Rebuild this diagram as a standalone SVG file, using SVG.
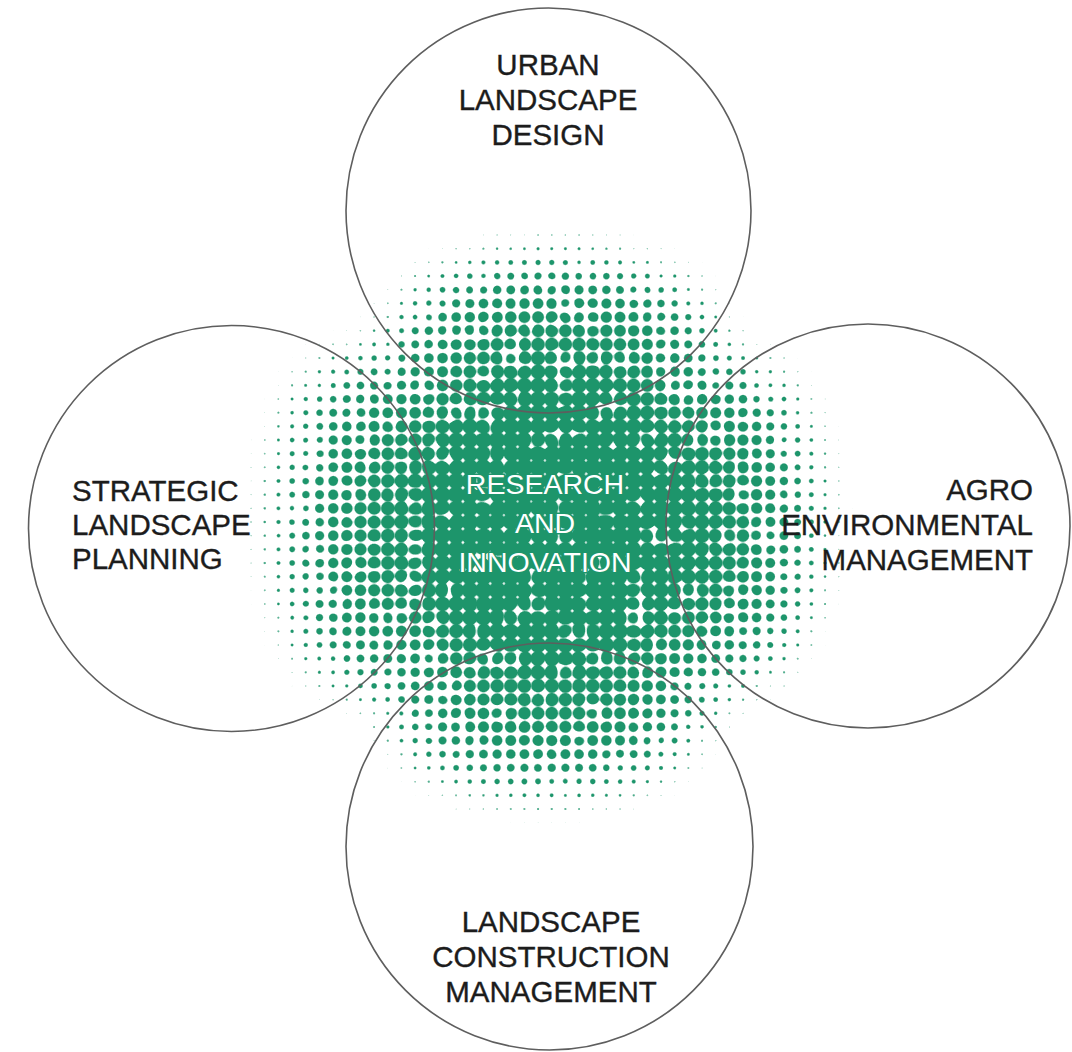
<svg xmlns="http://www.w3.org/2000/svg" width="1072" height="1052" viewBox="0 0 1072 1052">
<style>
.ring{fill:none;stroke:#5e5e5e;stroke-width:1.6}
.lbl{font-family:"Liberation Sans",Arial,sans-serif;font-size:29.5px;fill:#1c1c1c;stroke:#1c1c1c;stroke-width:0.35}
.core{font-family:"Liberation Sans",Arial,sans-serif;font-size:28.5px;fill:#ffffff;stroke:#1d956b;stroke-width:3;paint-order:stroke;text-anchor:middle}
</style>
<defs>
<radialGradient id="dotg" cx="0.5" cy="0.5" r="0.7071">
<stop offset="0" stop-color="#00ff00"/>
<stop offset="1" stop-color="#000000"/>
</radialGradient>
<pattern id="dots" patternUnits="userSpaceOnUse" x="-1.9" y="-4.3" width="13.67" height="13.67">
<rect width="13.67" height="13.67" fill="url(#dotg)"/>
</pattern>
<filter id="soft" filterUnits="userSpaceOnUse" x="0" y="0" width="1072" height="1052">
<feGaussianBlur stdDeviation="30"/>
</filter>
<filter id="halftone" filterUnits="userSpaceOnUse" x="0" y="0" width="1072" height="1052" color-interpolation-filters="sRGB">
<feTurbulence type="fractalNoise" baseFrequency="0.04" numOctaves="2" seed="11" result="n"/>
<feColorMatrix in="n" type="matrix" values="1.1 0 0 0 0.48  0 0 0 0 1  0 0 0 0 0  0 0 0 0 1" result="m"/>
<feComposite in="SourceGraphic" in2="m" operator="arithmetic" k1="1" k2="0" k3="0" k4="0" result="s"/>
<feColorMatrix in="s" type="matrix" values="0 0 0 0 0.114  0 0 0 0 0.584  0 0 0 0 0.42  8 8 0 0 -8"/>
</filter>
</defs>

<g id="halftone" filter="url(#halftone)">
<rect x="180" y="170" width="720" height="720" fill="#000000"/>
<g fill="#ff0000" filter="url(#soft)">
<ellipse cx="550" cy="525" rx="240" ry="250" opacity="0.5"/>
<ellipse cx="555" cy="522" rx="170" ry="175" opacity="0.65"/>
<ellipse cx="550" cy="525" rx="115" ry="115" opacity="0.8"/>
<ellipse cx="555" cy="310" rx="160" ry="60" opacity="0.35"/>
<ellipse cx="545" cy="740" rx="150" ry="60" opacity="0.35"/>
<ellipse cx="335" cy="520" rx="70" ry="170" opacity="0.35"/>
<ellipse cx="760" cy="520" rx="70" ry="160" opacity="0.35"/>
</g>
<rect x="180" y="170" width="720" height="720" fill="url(#dots)" style="mix-blend-mode:screen"/>
</g>

<g id="connectors"/>

<g id="node-urban">
<circle class="ring" cx="548.5" cy="210.5" r="202.5"/>
<text class="lbl" text-anchor="middle"><tspan x="548" y="75">URBAN</tspan><tspan x="548" y="110">LANDSCAPE</tspan><tspan x="548" y="145">DESIGN</tspan></text>
</g>

<g id="node-strategic">
<circle class="ring" cx="231.5" cy="528.5" r="203"/>
<text class="lbl" text-anchor="start"><tspan x="72" y="501">STRATEGIC</tspan><tspan x="72" y="535">LANDSCAPE</tspan><tspan x="72" y="569">PLANNING</tspan></text>
</g>

<g id="node-agro">
<circle class="ring" cx="868" cy="526" r="202"/>
<text class="lbl" text-anchor="end"><tspan x="1033" y="500">AGRO</tspan><tspan x="1033" y="535">ENVIRONMENTAL</tspan><tspan x="1033" y="570">MANAGEMENT</tspan></text>
</g>

<g id="node-construction">
<circle class="ring" cx="549.5" cy="846.5" r="203.5"/>
<text class="lbl" text-anchor="middle"><tspan x="551" y="932">LANDSCAPE</tspan><tspan x="551" y="967">CONSTRUCTION</tspan><tspan x="551" y="1002">MANAGEMENT</tspan></text>
</g>

<g id="node-research">
<text class="core"><tspan x="545" y="494">RESEARCH</tspan><tspan x="545" y="533">AND</tspan><tspan x="545" y="572">INNOVATION</tspan></text>
</g>
</svg>
